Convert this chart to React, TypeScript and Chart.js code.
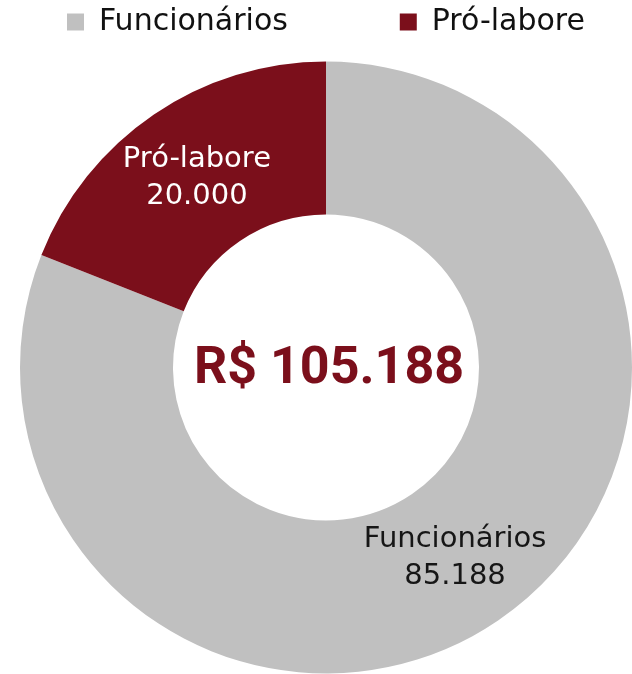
import React, { useEffect, useRef } from 'react';
import { Chart, registerables } from 'chart.js';

Chart.register(...registerables);

const categories: string[] = ['Funcionários', 'Pró-labore'];
const values: number[] = [85188, 20000];
const sliceColors: string[] = ['#C0C0C0', '#7B0F1B'];
const labelColors: string[] = ['#161616', '#FFFFFF'];
const currency = 'R$';

function fmt(n: number): string {
  return String(Math.round(n)).replace(/\B(?=(\d{3})+(?!\d))/g, '.');
}

const total = values.reduce((a, b) => a + b, 0);

const legendSpacer = {
  id: 'legendSpacer',
  beforeLayout(chart: any) {
    const lg = chart.legend;
    if (lg && !lg.__patched) {
      const orig = lg.fit.bind(lg);
      lg.fit = function () {
        orig();
        this.height = this.height + 14;
      };
      lg.__patched = true;
    }
  },
};

const labelsPlugin = {
  id: 'sliceLabels',
  afterDatasetsDraw(chart: any) {
    const ctx = chart.ctx as CanvasRenderingContext2D;
    const meta = chart.getDatasetMeta(0);
    meta.data.forEach((arc: any, i: number) => {
      const p = arc.tooltipPosition(false);
      ctx.save();
      ctx.font = '29px "DejaVu Sans"';
      ctx.fillStyle = labelColors[i];
      ctx.textAlign = 'center';
      ctx.textBaseline = 'middle';
      ctx.fillText(categories[i], p.x, p.y - 18);
      ctx.fillText(fmt(values[i]), p.x, p.y + 19);
      ctx.restore();
    });
    const c = meta.data[0];
    if (c) {
      ctx.save();
      ctx.font = 'bold 52px Roboto';
      ctx.fillStyle = sliceColors[1];
      ctx.textAlign = 'center';
      ctx.textBaseline = 'middle';
      ctx.fillText(currency + ' ' + fmt(total), c.x + 3, c.y + 2);
      ctx.restore();
    }
  },
};

export default function App() {
  const ref = useRef<HTMLCanvasElement | null>(null);
  useEffect(() => {
    if (!ref.current) return;
    const chart = new Chart(ref.current, {
      type: 'doughnut',
      data: {
        labels: categories,
        datasets: [
          {
            data: values,
            backgroundColor: sliceColors,
            borderWidth: 0,
            hoverOffset: 0,
          },
        ],
      },
      options: {
        responsive: false,
        animation: false,
        cutout: '50%',
        layout: { padding: { left: 20, right: 0, top: 0, bottom: 0 } },
        plugins: {
          tooltip: { enabled: false },
          legend: {
            display: true,
            position: 'top',
            labels: {
              color: '#111111',
              font: { family: '"DejaVu Sans"', size: 30 },
              boxWidth: 17,
              boxHeight: 17,
              padding: 7,
              generateLabels: (ch: any) => {
                const items = (Chart as any).overrides.doughnut.plugins.legend.labels.generateLabels(ch);
                if (items[0]) items[0].text = items[0].text + '           ';
                return items;
              },
            },
          },
        },
      },
      plugins: [legendSpacer, labelsPlugin],
    } as any);
    return () => chart.destroy();
  }, []);
  return (
    <div style={{ position: 'absolute', left: 0, top: 0, width: 632, height: 674, background: '#fff' }}>
      <canvas ref={ref} width={632} height={674} style={{ display: 'block' }} />
    </div>
  );
}
